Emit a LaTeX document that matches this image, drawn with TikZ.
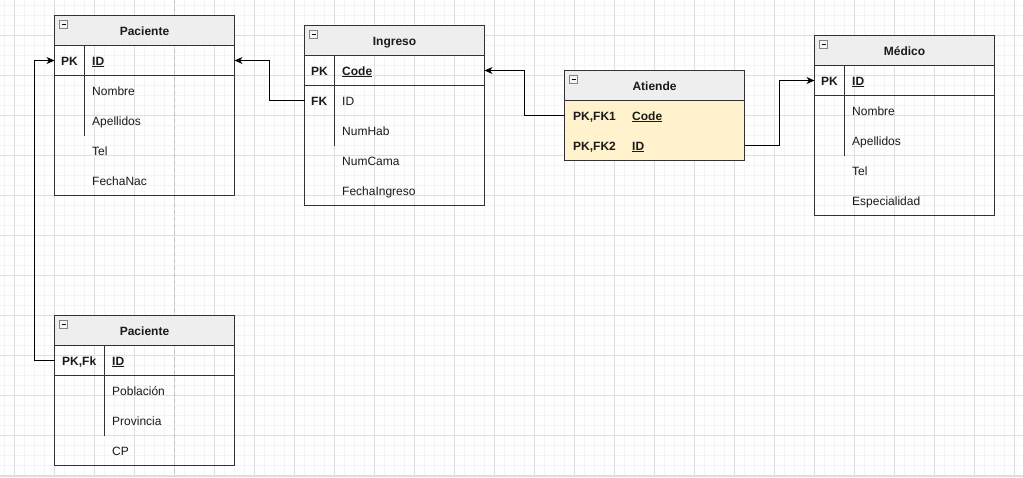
\documentclass[tikz,border=0pt]{standalone}
\usepackage{fontspec}
\setmainfont{Liberation Sans}
\usetikzlibrary{arrows.meta}

\definecolor{gridminor}{HTML}{F4F4F4}
\definecolor{gridmajor}{HTML}{DEDEDE}
\definecolor{pagebreak}{HTML}{C2C2C2}
\definecolor{hdrfill}{HTML}{EEEEEE}
\definecolor{tblframe}{HTML}{333333}
\definecolor{keyfill}{HTML}{FFF2CC}
\definecolor{inktext}{HTML}{1A1A1A}
\definecolor{iconline}{HTML}{7C8591}

\tikzset{
  tblframe/.style={draw=tblframe, line width=1pt},
  hdrbox/.style={tblframe, fill=hdrfill},
  rowbox/.style={minimum width=180pt, minimum height=30pt, inner sep=0pt, outer sep=0pt},
  titletxt/.style={anchor=base, inner sep=0pt, font=\fontsize{12}{14}\selectfont\bfseries, text=inktext},
  keytxt/.style={anchor=base west, inner sep=0pt, font=\fontsize{12}{14}\selectfont\bfseries, text=inktext},
  fieldtxt/.style={anchor=base west, inner sep=0pt, font=\fontsize{12}{14}\selectfont, text=inktext},
  pkfield/.style={fieldtxt, font=\fontsize{12}{14}\selectfont\bfseries},
  divider/.style={draw=tblframe, line width=1pt},
  link/.style={draw=black, line width=1pt, -{Stealth[length=8pt, width=7pt, inset=2.5pt]}},
}
% collapse icon in a table header
\newcommand{\collapseicon}[2]{%
  \draw[iconline, fill=hdrfill!60!white, line width=0.8pt] (#1,#2) rectangle ++(8,8);
  \draw[black, line width=1pt] (#1+2,#2+4) -- ++(4,0);
}
\newcommand{\ul}[1]{\underline{#1}}

\begin{document}
\begin{tikzpicture}[x=1pt, y=-1pt]
  \useasboundingbox (0,0) rectangle (1023,477);
  \fill[white] (0,0) rectangle (1023,477);

  % background grid
  \foreach \gx in {4,14,...,1023} \draw[gridminor, line width=0.8pt] (\gx,0) -- (\gx,477);
  \foreach \gy in {5,15,...,477} \draw[gridminor, line width=0.8pt] (0,\gy) -- (1023,\gy);
  \foreach \gx in {14,54,...,1023} \draw[gridmajor, line width=0.8pt] (\gx,0) -- (\gx,477);
  \foreach \gy in {35,75,...,477} \draw[gridmajor, line width=0.8pt] (0,\gy) -- (1023,\gy);
  \draw[gridmajor, line width=0.8pt] (0,476.5) -- (1023,476.5);
  % page break
  \draw[pagebreak, line width=0.8pt, dash pattern=on 4pt off 3pt] (174.5,0) -- (174.5,477);

  % ---------------- Paciente ----------------
  \draw[hdrbox] (54.5,15.5) rectangle (234.5,45.5);
  \draw[tblframe] (54.5,45.5) rectangle (234.5,195.5);
  \draw[divider] (54.5,75.5) -- (234.5,75.5);
  \draw[divider] (84.5,45.5) -- (84.5,135.5);
  \collapseicon{59.5}{20.5}
  \node[titletxt] (pacT) at (144.5,35) {Paciente};
  \node[rowbox] (pacPK) at (144.5,60.5) {};
  \node[keytxt] (pacPKk) at (61,65) {PK};
  \node[pkfield] (pacID) at (92,65) {\ul{ID}};
  \node[fieldtxt] (pacNom) at (92,95) {Nombre};
  \node[fieldtxt] (pacApe) at (92,125) {Apellidos};
  \node[fieldtxt] (pacTel) at (92,155) {Tel};
  \node[fieldtxt] (pacFec) at (92,185) {FechaNac};

  % ---------------- Ingreso ----------------
  \draw[hdrbox] (304.5,25.5) rectangle (484.5,55.5);
  \draw[tblframe] (304.5,55.5) rectangle (484.5,205.5);
  \draw[divider] (304.5,85.5) -- (484.5,85.5);
  \draw[divider] (334.5,55.5) -- (334.5,145.5);
  \collapseicon{309.5}{30.5}
  \node[titletxt] (ingT) at (394.5,45) {Ingreso};
  \node[rowbox] (ingPK) at (394.5,70.5) {};
  \node[rowbox] (ingFK) at (394.5,100.5) {};
  \node[keytxt] (ingPKk) at (311,75) {PK};
  \node[pkfield] (ingCode) at (342,75) {\ul{Code}};
  \node[keytxt] (ingFKk) at (311,105) {FK};
  \node[fieldtxt] (ingID) at (342,105) {ID};
  \node[fieldtxt] (ingHab) at (342,135) {NumHab};
  \node[fieldtxt] (ingCama) at (342,165) {NumCama};
  \node[fieldtxt] (ingFec) at (342,195) {FechaIngreso};

  % ---------------- Atiende ----------------
  \fill[keyfill] (564.5,100.5) rectangle (744.5,160.5);
  \draw[hdrbox] (564.5,70.5) rectangle (744.5,100.5);
  \draw[tblframe] (564.5,100.5) rectangle (744.5,160.5);
  \collapseicon{569.5}{75.5}
  \node[titletxt] (atiT) at (654.5,90) {Atiende};
  \node[rowbox] (atiR1) at (654.5,115.5) {};
  \node[rowbox] (atiR2) at (654.5,145.5) {};
  \node[keytxt] (atiK1) at (573,120) {PK,FK1};
  \node[pkfield] (atiCode) at (632,120) {\ul{Code}};
  \node[keytxt] (atiK2) at (573,150) {PK,FK2};
  \node[pkfield] (atiID) at (632,150) {\ul{ID}};

  % ---------------- Médico ----------------
  \draw[hdrbox] (814.5,35.5) rectangle (994.5,65.5);
  \draw[tblframe] (814.5,65.5) rectangle (994.5,215.5);
  \draw[divider] (814.5,95.5) -- (994.5,95.5);
  \draw[divider] (844.5,65.5) -- (844.5,155.5);
  \collapseicon{819.5}{40.5}
  \node[titletxt] (medT) at (904.5,55) {Médico};
  \node[rowbox] (medPK) at (904.5,80.5) {};
  \node[keytxt] (medPKk) at (821,85) {PK};
  \node[pkfield] (medID) at (852,85) {\ul{ID}};
  \node[fieldtxt] (medNom) at (852,115) {Nombre};
  \node[fieldtxt] (medApe) at (852,145) {Apellidos};
  \node[fieldtxt] (medTel) at (852,175) {Tel};
  \node[fieldtxt] (medEsp) at (852,205) {Especialidad};

  % ---------------- Paciente (dirección) ----------------
  \draw[hdrbox] (54.5,315.5) rectangle (234.5,345.5);
  \draw[tblframe] (54.5,345.5) rectangle (234.5,465.5);
  \draw[divider] (54.5,375.5) -- (234.5,375.5);
  \draw[divider] (104.5,345.5) -- (104.5,435.5);
  \collapseicon{59.5}{320.5}
  \node[titletxt] (dirT) at (144.5,335) {Paciente};
  \node[rowbox] (dirPK) at (144.5,360.5) {};
  \node[keytxt] (dirPKk) at (62,365) {PK,Fk};
  \node[pkfield] (dirID) at (112,365) {\ul{ID}};
  \node[fieldtxt] (dirPob) at (112,395) {Población};
  \node[fieldtxt] (dirPro) at (112,425) {Provincia};
  \node[fieldtxt] (dirCP) at (112,455) {CP};

  % ---------------- relationships ----------------
  \draw[link] (ingFK.west) -- ++(-35,0) |- (pacPK.east);
  \draw[link] (atiR1.west) -- ++(-40,0) |- (ingPK.east);
  \draw[link] (atiR2.east) -- ++(35,0) |- (medPK.west);
  \draw[link] (dirPK.west) -- ++(-20,0) |- (pacPK.west);
\end{tikzpicture}
\end{document}
